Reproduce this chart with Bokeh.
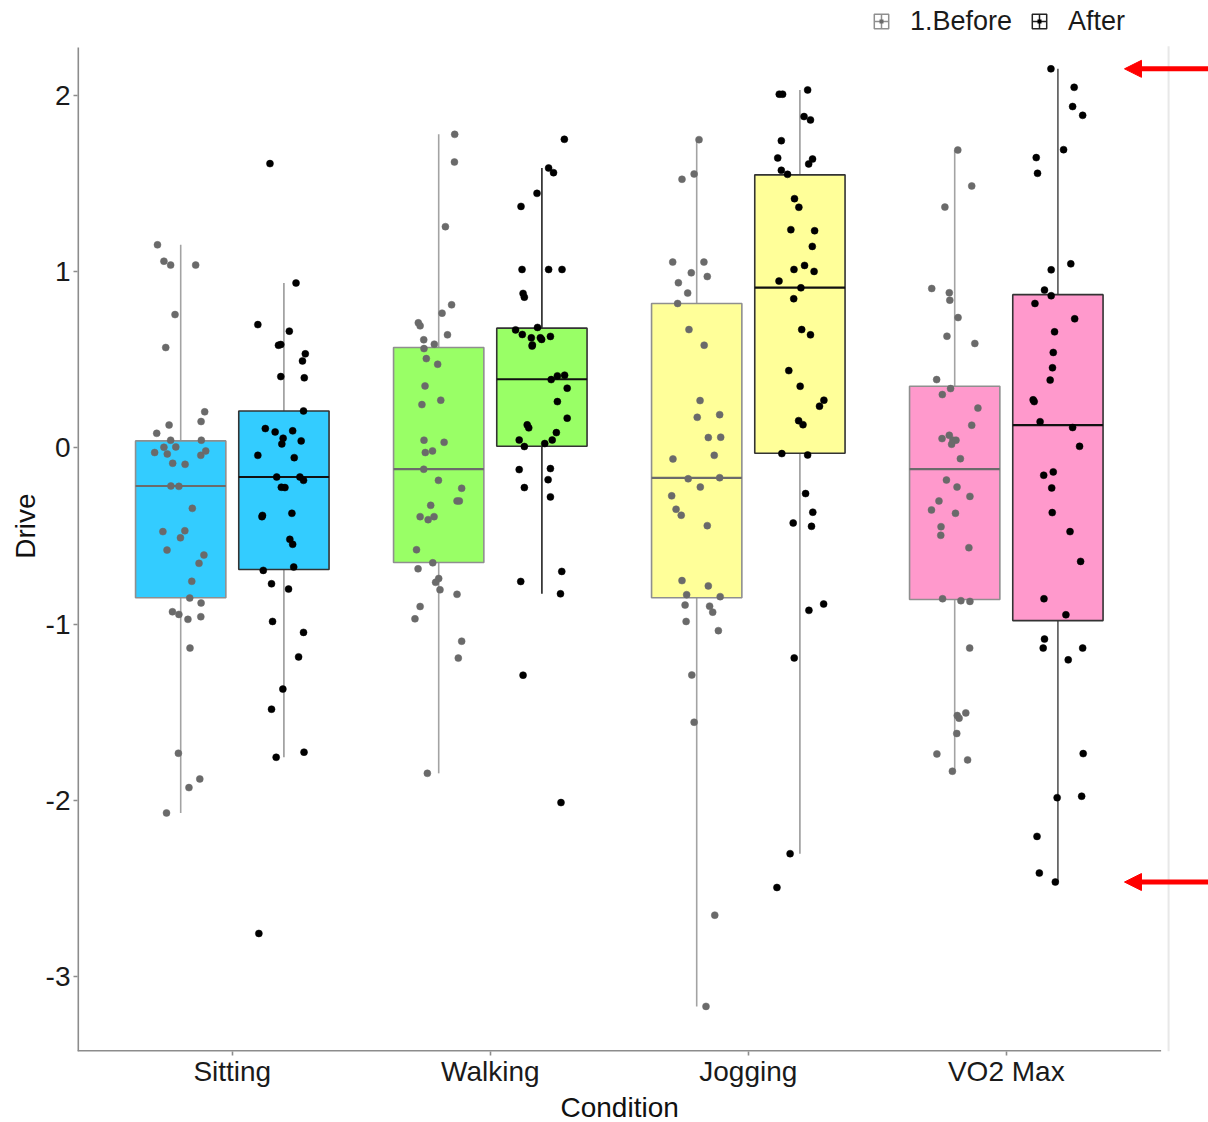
from bokeh.plotting import figure
from bokeh.models import (ColumnDataSource, Range1d, FixedTicker, Legend, LegendItem,
                          Arrow, NormalHead, Title)
from bokeh.embed import file_html
from bokeh.resources import INLINE

conditions = ["Sitting", "Walking", "Jogging", "VO2 Max"]
phases = ["1.Before", "After"]
condition_fill = ["#33CCFF", "#99FF66", "#FFFF99", "#FF99CC"]
y_ticks = [-3, -2, -1, 0, 1, 2]

# boxplot statistics per condition
q1_before = [-0.85, -0.65, -0.85, -0.86]
median_before = [-0.216, -0.12, -0.17, -0.12]
q3_before = [0.04, 0.57, 0.82, 0.35]
low_before = [-2.072, -1.847, -3.17, -1.835]
high_before = [1.153, 1.78, 1.75, 1.691]

q1_after = [-0.69, 0.01, -0.03, -0.98]
median_after = [-0.165, 0.39, 0.91, 0.13]
q3_after = [0.21, 0.68, 1.55, 0.87]
low_after = [-1.756, -0.828, -2.303, -2.464]
high_after = [0.936, 1.589, 2.032, 2.152]

# individual observations (Drive) and their horizontal jitter
sitting_before_drive = [1.153, 1.06, 1.038, 1.038, 0.757, 0.57, 0.205, 0.15, 0.13, 0.083, 0.044, 0.044, -0.026, 0.004, -0.034, 0.006, -0.042, -0.017, -0.087, -0.093, -0.216, -0.218, -0.343, -0.475, -0.47, -0.51, -0.58, -0.608, -0.655, -0.757, -0.852, -0.88, -0.93, -0.945, -0.973, -0.958, -1.136, -1.733, -1.879, -1.928, -2.072]
sitting_before_jitter = [-0.090, -0.065, -0.039, 0.058, -0.022, -0.058, 0.093, 0.079, -0.045, -0.093, -0.039, 0.080, -0.101, -0.065, -0.052, -0.019, 0.078, 0.097, -0.031, 0.017, -0.038, -0.007, 0.045, -0.069, 0.016, -0.001, -0.053, 0.090, 0.071, 0.043, 0.035, 0.079, -0.032, -0.007, 0.028, 0.078, 0.036, -0.009, 0.074, 0.032, -0.055]

sitting_after_drive = [0.936, 0.70, 0.663, 0.583, 0.587, 0.534, 0.494, 0.405, 0.398, 0.21, 0.11, 0.091, 0.097, 0.055, 0.023, 0.04, -0.042, -0.055, -0.165, -0.165, -0.184, -0.223, -0.225, -0.383, -0.39, -0.371, -0.519, -0.547, -0.695, -0.676, -0.771, -0.801, -0.985, -1.047, -1.186, -1.369, -1.483, -1.756, -1.727, 1.614, -2.756]
sitting_after_jitter = [0.047, -0.101, 0.021, -0.021, -0.012, 0.083, 0.072, -0.012, 0.079, 0.076, -0.072, -0.034, 0.034, -0.003, -0.008, 0.067, -0.101, 0.040, -0.028, 0.062, 0.076, -0.010, 0.004, -0.083, -0.085, 0.031, 0.023, 0.034, -0.080, 0.038, -0.048, 0.018, -0.044, 0.076, 0.057, -0.004, -0.048, -0.030, 0.078, -0.054, -0.097]

walking_before_drive = [1.78, 1.623, 1.256, 0.8125, 0.765, 0.71, 0.693, 0.642, 0.614, 0.589, 0.564, 0.507, 0.475, 0.352, 0.271, 0.246, 0.044, 0.032, -0.026, -0.017, -0.121, -0.184, -0.229, -0.301, -0.301, -0.326, -0.39, -0.407, -0.39, -0.578, -0.652, -0.686, -0.741, -0.763, -0.805, -0.831, -0.9, -0.97, -1.097, -1.193, -1.847]
walking_before_jitter = [0.062, 0.061, 0.026, 0.050, 0.013, -0.079, -0.072, 0.034, -0.058, -0.017, -0.057, -0.048, -0.004, -0.053, 0.008, -0.065, -0.057, 0.021, -0.052, -0.024, -0.058, -0.001, 0.089, 0.071, 0.080, -0.031, -0.072, -0.041, -0.018, -0.086, -0.023, -0.080, 0.000, -0.012, 0.005, 0.071, -0.072, -0.092, 0.089, 0.076, -0.044]

walking_after_drive = [1.752, 1.589, 1.5625, 1.445, 1.371, 1.013, 1.013, 1.013, 0.877, 0.856, 0.67, 0.684, 0.644, 0.625, 0.625, 0.616, 0.633, 0.585, 0.578, 0.388, 0.409, 0.413, 0.339, 0.263, 0.169, 0.131, 0.114, 0.087, 0.045, 0.045, 0.008, 0.025, -0.123, -0.117, -0.18, -0.225, -0.278, -0.701, -0.758, -0.828, -1.29, -2.013]
walking_after_jitter = [0.087, 0.026, 0.045, -0.019, -0.081, -0.077, 0.026, 0.078, -0.073, -0.068, -0.102, -0.017, -0.076, -0.041, -0.006, -0.001, 0.033, -0.037, -0.038, 0.036, 0.060, 0.088, 0.098, 0.060, 0.098, -0.057, -0.051, 0.056, -0.088, 0.040, -0.068, 0.011, -0.088, 0.033, 0.024, -0.068, 0.033, 0.077, -0.082, 0.072, -0.073, 0.074]

jogging_before_drive = [1.75, 1.555, 1.525, 1.055, 1.055, 0.994, 0.973, 0.9375, 0.879, 0.82, 0.672, 0.583, 0.269, 0.174, 0.189, 0.059, 0.061, -0.0625, -0.042, -0.175, -0.169, -0.222, -0.272, -0.348, -0.382, -0.441, -0.753, -0.783, -0.833, -0.844, -0.892, -0.898, -0.932, -0.985, -1.037, -1.289, -1.557, -2.652, -3.17]
jogging_before_jitter = [0.009, -0.010, -0.057, -0.093, 0.028, -0.021, 0.041, -0.071, -0.035, -0.074, -0.030, 0.029, 0.013, 0.002, 0.089, 0.045, 0.093, -0.092, 0.068, -0.033, 0.089, 0.014, -0.097, -0.080, -0.060, 0.041, -0.057, 0.045, -0.039, 0.091, -0.045, 0.050, 0.062, -0.041, 0.084, -0.019, -0.010, 0.070, 0.036]

jogging_after_drive = [2.008, 2.008, 2.032, 1.881, 1.862, 1.744, 1.646, 1.64, 1.612, 1.576, 1.553, 1.415, 1.366, 1.239, 1.233, 1.144, 1.036, 1.013, 1.002, 0.947, 0.909, 0.847, 0.672, 0.642, 0.439, 0.35, 0.271, 0.237, 0.155, 0.132, -0.032, -0.04, -0.259, -0.365, -0.426, -0.445, -0.886, -0.922, -1.192, -2.303, -2.495]
jogging_after_jitter = [-0.080, -0.067, 0.030, 0.016, 0.041, -0.072, -0.086, 0.049, 0.034, -0.072, -0.048, -0.021, -0.004, -0.035, 0.057, 0.048, 0.018, -0.023, 0.055, -0.081, 0.004, -0.024, 0.007, 0.041, -0.043, 0.001, 0.093, 0.076, -0.005, 0.012, -0.070, 0.030, 0.022, 0.050, -0.026, 0.045, 0.092, 0.035, -0.022, -0.038, -0.089]

vo2_before_drive = [1.691, 1.487, 1.367, 0.905, 0.881, 0.839, 0.74, 0.634, 0.593, 0.388, 0.337, 0.303, 0.226, 0.129, 0.053, 0.072, 0.044, 0.044, 0.021, -0.061, -0.182, -0.222, -0.275, -0.301, -0.352, -0.371, -0.447, -0.496, -0.566, -0.856, -0.867, -0.871, -1.136, -1.504, -1.519, -1.534, -1.621, -1.737, -1.771, -1.835]
vo2_before_jitter = [0.012, 0.066, -0.038, -0.089, -0.021, -0.019, 0.013, -0.030, 0.078, -0.070, -0.016, -0.048, 0.090, 0.066, -0.049, -0.021, -0.007, 0.005, -0.012, 0.022, -0.032, 0.009, 0.059, -0.061, -0.090, 0.003, -0.053, -0.054, 0.055, -0.047, 0.024, 0.059, 0.058, 0.043, 0.010, 0.017, 0.008, -0.069, 0.050, -0.009]

vo2_after_drive = [2.152, 2.047, 1.938, 1.888, 1.693, 1.648, 1.559, 1.045, 1.011, 0.896, 0.864, 0.82, 0.733, 0.659, 0.542, 0.455, 0.385, 0.273, 0.263, 0.149, 0.116, 0.009, -0.155, -0.136, -0.227, -0.367, -0.475, -0.644, -0.856, -0.947, -1.085, -1.136, -1.136, -1.203, -1.735, -1.985, -1.977, -2.205, -2.413, -2.464]
vo2_after_jitter = [-0.027, 0.063, 0.057, 0.096, 0.022, -0.084, -0.079, 0.050, -0.026, -0.052, -0.026, -0.089, 0.065, -0.013, -0.018, -0.021, -0.030, -0.096, -0.092, -0.069, 0.057, 0.084, -0.055, -0.018, -0.024, -0.022, 0.047, 0.088, -0.054, 0.031, -0.052, -0.057, 0.096, 0.040, 0.098, -0.003, 0.092, -0.081, -0.072, -0.010]

before_points = [
    (sitting_before_drive, sitting_before_jitter),
    (walking_before_drive, walking_before_jitter),
    (jogging_before_drive, jogging_before_jitter),
    (vo2_before_drive, vo2_before_jitter),
]
after_points = [
    (sitting_after_drive, sitting_after_jitter),
    (walking_after_drive, walking_after_jitter),
    (jogging_after_drive, jogging_after_jitter),
    (vo2_after_drive, vo2_after_jitter),
]

FONT = "Liberation Sans"
DODGE = 0.2
BOX_W = 0.35
AXIS_GREY = "#8c8c8c"

# Panel limits: the axes cover x 0.4..4.6 and y up to 2.273; the drawing area
# runs on to the right and top edges so the key and the markers fit beside it.
X_LO, X_HI, X_EDGE = 0.4, 4.6, 4.7837
Y_LO, Y_HI, Y_EDGE = -3.426, 2.273, 2.5398

p = figure(width=1208, height=1122, output_backend="svg", toolbar_location=None,
           x_range=Range1d(X_LO, X_EDGE), y_range=Range1d(Y_LO, Y_EDGE),
           min_border_left=77, min_border_right=0, min_border_top=0,
           min_border_bottom=69)
p.background_fill_color = "white"
p.border_fill_color = "white"
p.outline_line_color = None
p.xgrid.visible = False
p.ygrid.visible = False

cat_x = [i + 1 for i in range(len(conditions))]

# axis lines of the panel (doubled width: half of it is clipped at the edge)
p.segment(x0=[X_LO, X_LO], y0=[Y_LO, Y_LO], x1=[X_LO, X_HI], y1=[Y_HI, Y_LO],
          line_color=AXIS_GREY, line_width=3.2)


def draw_boxes(offset, q1, med, q3, lo, hi, box_line, med_line, whisker_line):
    xs = [c + offset for c in cat_x]
    src = ColumnDataSource(dict(
        x=xs, q1=q1, med=med, q3=q3, lo=lo, hi=hi, fill=condition_fill,
        x0=[x - BOX_W / 2 for x in xs], x1=[x + BOX_W / 2 for x in xs],
        wcol=whisker_line))
    p.segment(x0="x", y0="q3", x1="x", y1="hi", source=src, line_color="wcol", line_width=1.6)
    p.segment(x0="x", y0="lo", x1="x", y1="q1", source=src, line_color="wcol", line_width=1.6)
    p.vbar(x="x", width=BOX_W, bottom="q1", top="q3", source=src, fill_color="fill",
           line_color=box_line, line_width=1.6)
    p.segment(x0="x0", y0="med", x1="x1", y1="med", source=src, line_color=med_line,
              line_width=2.2)


draw_boxes(-DODGE, q1_before, median_before, q3_before, low_before, high_before,
           "#8f8f8f", "#6b6b6b", ["#a3a3a3"] * 4)
draw_boxes(DODGE, q1_after, median_after, q3_after, low_after, high_after,
           "#333333", "#111111", ["#9a9a9a", "#222222", "#9a9a9a", "#555555"])


def draw_points(groups, offset, color):
    xs, ys = [], []
    for c, (drive, jit) in zip(cat_x, groups):
        xs += [c + offset + j for j in jit]
        ys += drive
    p.scatter(xs, ys, size=7, fill_color=color, line_color=color, line_width=0.5)


draw_points(before_points, -DODGE, "#6a6a6a")
draw_points(after_points, DODGE, "#000000")

# axes: ticks and labels (lines drawn above)
for ax in (p.xaxis, p.yaxis):
    ax.axis_line_color = None
    ax.major_tick_line_color = AXIS_GREY
    ax.major_tick_line_width = 1.6
    ax.major_tick_out = 4
    ax.major_tick_in = 0
    ax.minor_tick_line_color = None
    ax.major_label_text_font = FONT
    ax.major_label_text_font_size = "28px"
    ax.major_label_text_color = "#1a1a1a"
    ax.axis_label_text_font = FONT
    ax.axis_label_text_font_size = "28px"
    ax.axis_label_text_font_style = "normal"
    ax.axis_label_text_color = "#111111"

p.xaxis.ticker = FixedTicker(ticks=cat_x)
p.xaxis.major_label_overrides = {c: n for c, n in zip(cat_x, conditions)}
p.xaxis.major_label_standoff = 0

p.yaxis.ticker = FixedTicker(ticks=y_ticks)
p.yaxis.major_label_overrides = {t: str(t) for t in y_ticks}
p.yaxis.major_label_standoff = 3
p.yaxis.axis_label = "Drive"
p.yaxis.axis_label_standoff = 2

# x-axis title, centred under the axis line (x 0.4..4.6) rather than the whole area
x_title = Title(text="Condition", align="left", offset=483, standoff=0,
                text_font=FONT, text_font_size="28px", text_font_style="normal",
                text_color="#111111")
p.add_layout(x_title, "below")

# legend keys: boxplot-like icon with a dot
key_before = p.scatter(x=[-10], y=[0], marker="square_cross", size=14, fill_color="white",
                       line_color="#8f8f8f", line_width=1.5)
dot_before = p.line(x=[-10, -9], y=[0, 0], line_color="#6a6a6a", line_width=4,
                    line_dash="0 16 4 84")
key_after = p.scatter(x=[-10], y=[0], marker="square_cross", size=14, fill_color="white",
                      line_color="#222222", line_width=1.5)
dot_after = p.line(x=[-10, -9], y=[0, 0], line_color="#000000", line_width=4,
                   line_dash="0 16 4 84")

legend = Legend(items=[LegendItem(label=phases[0], renderers=[key_before, dot_before]),
                       LegendItem(label=phases[1], renderers=[key_after, dot_after])],
                orientation="horizontal", location=(786, 1012))
legend.glyph_width = 36
legend.glyph_height = 36
legend.label_standoff = 11
legend.spacing = 9
legend.padding = 0
legend.margin = 0
legend.label_text_font = FONT
legend.label_text_font_size = "27px"
legend.label_text_color = "#1a1a1a"
legend.border_line_color = None
legend.background_fill_alpha = 0
p.add_layout(legend, "center")

# faint frame line on the right and the two red markers on the VO2 Max extremes
p.segment(x0=[4.629], y0=[2.28], x1=[4.629], y1=[Y_LO], line_color="#e8e8e8", line_width=2)
for yv in (max(vo2_after_drive), min(vo2_after_drive)):
    p.add_layout(Arrow(end=NormalHead(size=17, fill_color="#FF0000", line_color="#FF0000"),
                       x_start=4.80, x_end=4.458, y_start=yv, y_end=yv,
                       line_color="#FF0000", line_width=5))

open("out.html", "w").write(file_html(p, INLINE))
